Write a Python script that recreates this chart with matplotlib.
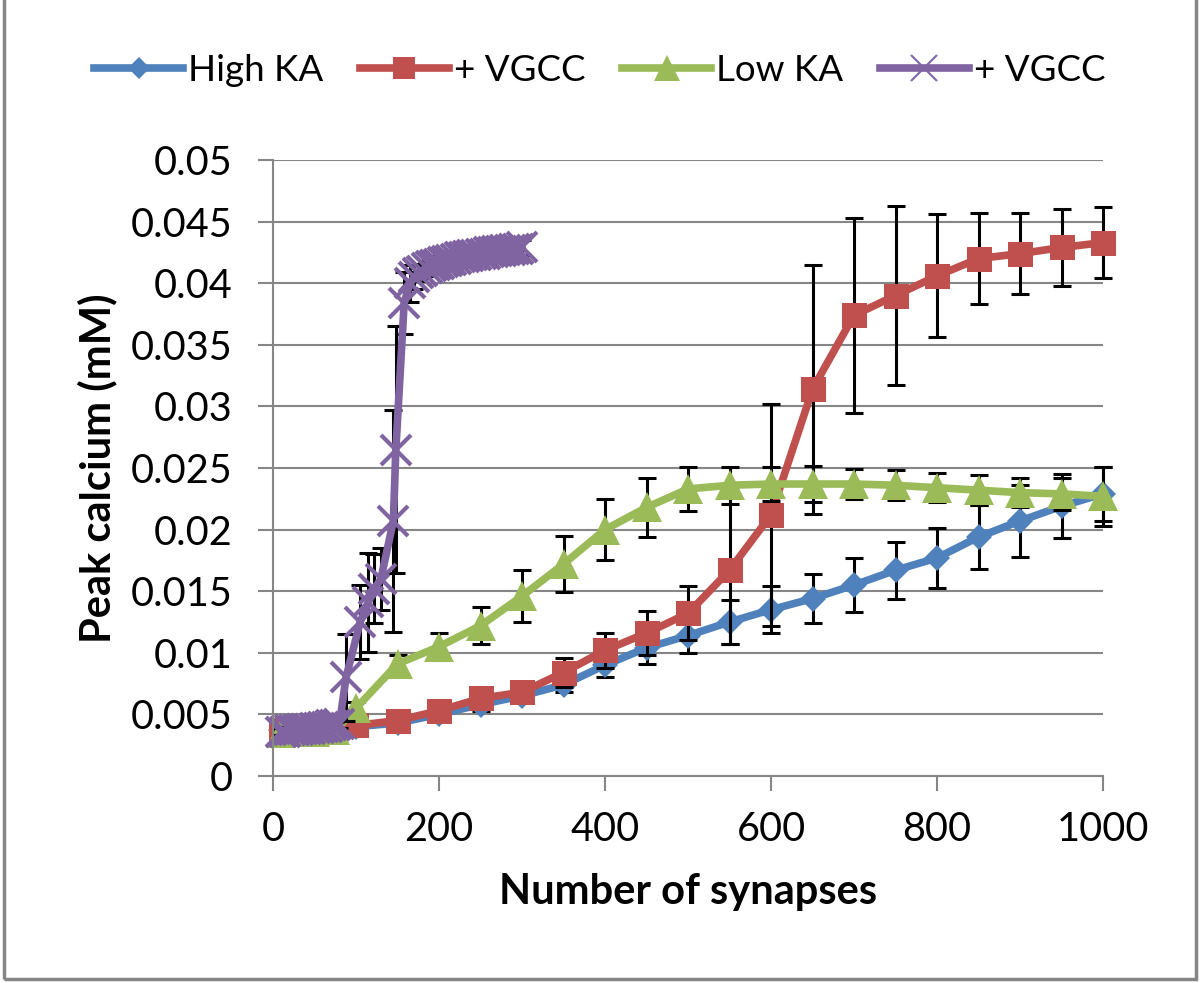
import matplotlib
matplotlib.use("Agg")
import matplotlib.pyplot as plt
from matplotlib.lines import Line2D

# --- data ---
high_x = [10, 25, 50, 75, 100, 150, 200, 250, 300, 350, 400, 450, 500, 550,
          600, 650, 700, 750, 800, 850, 900, 950, 1000]
high_y = [0.0037, 0.0037, 0.0038, 0.0039, 0.0040, 0.0043, 0.0050, 0.0058, 0.0065,
          0.0074, 0.0090, 0.0104, 0.0114, 0.0125, 0.0135, 0.0144, 0.0155, 0.0167,
          0.0177, 0.0194, 0.0207, 0.0219, 0.0229]
high_err = [0.0002, 0.0002, 0.0002, 0.0002, 0.0002, 0.0003, 0.0004, 0.0005, 0.0005,
            0.0006, 0.0010, 0.0013, 0.0014, 0.0018, 0.0019, 0.0020, 0.0022, 0.0023,
            0.0024, 0.0026, 0.0029, 0.0026, 0.0022]

high_vg_x = high_x
high_vg_y = [0.0037, 0.0038, 0.0038, 0.0039, 0.0041, 0.0045, 0.0053, 0.0063, 0.0068,
             0.0084, 0.0102, 0.0116, 0.0132, 0.0167, 0.0212, 0.0314, 0.0374, 0.0390,
             0.0406, 0.0420, 0.0424, 0.0429, 0.0433]
high_vg_err = [0.0002, 0.0002, 0.0002, 0.0002, 0.0003, 0.0003, 0.0004, 0.0005, 0.0006,
               0.0012, 0.0014, 0.0018, 0.0022, 0.0060, 0.0090, 0.0101, 0.0079, 0.0073,
               0.0050, 0.0037, 0.0033, 0.0031, 0.0029]

low_x = high_x
low_y = [0.0035, 0.0036, 0.0036, 0.0037, 0.0055, 0.0091, 0.0105, 0.0122, 0.0146,
         0.0172, 0.0200, 0.0218, 0.0233, 0.0236, 0.0237, 0.0237, 0.0237, 0.0236,
         0.0234, 0.0232, 0.0230, 0.0229, 0.0227]
low_err = [0.0002, 0.0002, 0.0002, 0.0002, 0.0005, 0.0007, 0.0011, 0.0015, 0.0021,
           0.0023, 0.0025, 0.0024, 0.0018, 0.0015, 0.0014, 0.0015, 0.0012, 0.0012,
           0.0012, 0.0012, 0.0012, 0.0013, 0.0024]

low_vg_x = [10, 15, 20, 25, 30, 35, 40, 45, 50, 55, 60, 65, 70, 75, 80,
            88, 105, 115, 122, 130, 145, 148, 158,
            165, 170, 175, 180, 185, 190, 195, 200, 205, 210, 215, 220, 225, 230,
            235, 240, 245, 250, 255, 260, 265, 270, 275, 280, 285, 290, 295, 300]
low_vg_y = [0.0036, 0.0036, 0.0037, 0.0037, 0.0037, 0.0038, 0.0038, 0.0038, 0.0039,
            0.0039, 0.0040, 0.0040, 0.0041, 0.0041, 0.0042,
            0.0080, 0.0125, 0.0141, 0.0152, 0.0160, 0.0207, 0.0265, 0.0384,
            0.0400, 0.0405, 0.0408, 0.0410, 0.0412, 0.0414, 0.0415, 0.0416, 0.0417,
            0.0418, 0.0419, 0.0420, 0.0421, 0.0421, 0.0422, 0.0423, 0.0423, 0.0424,
            0.0424, 0.0425, 0.0425, 0.0426, 0.0426, 0.0427, 0.0427, 0.0428, 0.0428,
            0.0429]
low_vg_err = [0.0003] * 15 + [0.0035, 0.0030, 0.0040, 0.0028, 0.0025, 0.0090, 0.0100,
                              0.0025] + [0.0015, 0.0010] + [0.0006] * 26

series_names = ["High KA", "+ VGCC", "Low KA", "+ VGCC"]
yticks = [0, 0.005, 0.01, 0.015, 0.02, 0.025, 0.03, 0.035, 0.04, 0.045, 0.05]
ytick_labels = ["0", "0.005", "0.01", "0.015", "0.02", "0.025", "0.03", "0.035",
                "0.04", "0.045", "0.05"]
xticks = [0, 200, 400, 600, 800, 1000]

plt.rcParams['font.family'] = ['Lato', 'DejaVu Sans']

dpi = 100
fig = plt.figure(figsize=(1200 / dpi, 983 / dpi), dpi=dpi)
ax = fig.add_axes([0.2275, 0.2106, 0.6917, 0.6266])

grey = "#868686"
styles = [
    (high_x, high_y, high_err, "#4F81BD", "D", 13),
    (high_vg_x, high_vg_y, high_vg_err, "#C0504D", "s", 18),
    (low_x, low_y, low_err, "#9BBB59", "^", 22),
    (low_vg_x, low_vg_y, low_vg_err, "#8064A2", "x", 22),
]

handles = []
for (x, y, e, c, m, ms), name in zip(styles, series_names):
    eb = ax.errorbar(x, y, yerr=e, fmt="none", ecolor="black", elinewidth=2.2,
                     capsize=6.5, capthick=2.2)
    for art in eb.lines[1] + eb.lines[2]:
        art.set_clip_on(False)
    ax.plot(x, y, color=c, lw=5.5, marker=m, markersize=ms, clip_on=False,
            markeredgewidth=3 if m == "x" else 0, markeredgecolor=c)
    handles.append(Line2D([], [], color=c, lw=5.5, marker=m, markersize=ms * 0.85,
                          markeredgewidth=1.5 if m == "x" else 0, markeredgecolor=c))

ax.set_xlim(0, 1000)
ax.set_ylim(0, 0.05)
ax.set_yticks(yticks)
ax.set_yticklabels(ytick_labels)
ax.set_xticks(xticks)
ax.yaxis.grid(True, color=grey, lw=1.5)
ax.set_axisbelow(True)
for s in ["top", "right"]:
    ax.spines[s].set_visible(False)
for s in ["left", "bottom"]:
    ax.spines[s].set_color(grey)
    ax.spines[s].set_linewidth(1.5)
ax.tick_params(axis="both", colors=grey, labelcolor="black", labelsize=28.5,
               length=11, width=1.5)
ax.tick_params(axis="y", pad=18)
ax.tick_params(axis="x", pad=14)

ax.set_xlabel("Number of synapses", fontsize=30, fontweight="bold", labelpad=18)
ax.set_ylabel("Peak calcium (mM)", fontsize=30, fontweight="bold", labelpad=10)

fig.legend(handles, series_names, loc="center", bbox_to_anchor=(0.5, 0.928),
           ncol=4, frameon=False, fontsize=26.5, handlelength=2.4,
           handletextpad=0.15, columnspacing=1.0)

# chart-area border
fig.add_artist(plt.Rectangle((0.003, 0.004), 0.994, 1.2, transform=fig.transFigure,
                             fill=False, edgecolor=grey, lw=2.5))

fig.savefig("out.png", dpi=dpi)
